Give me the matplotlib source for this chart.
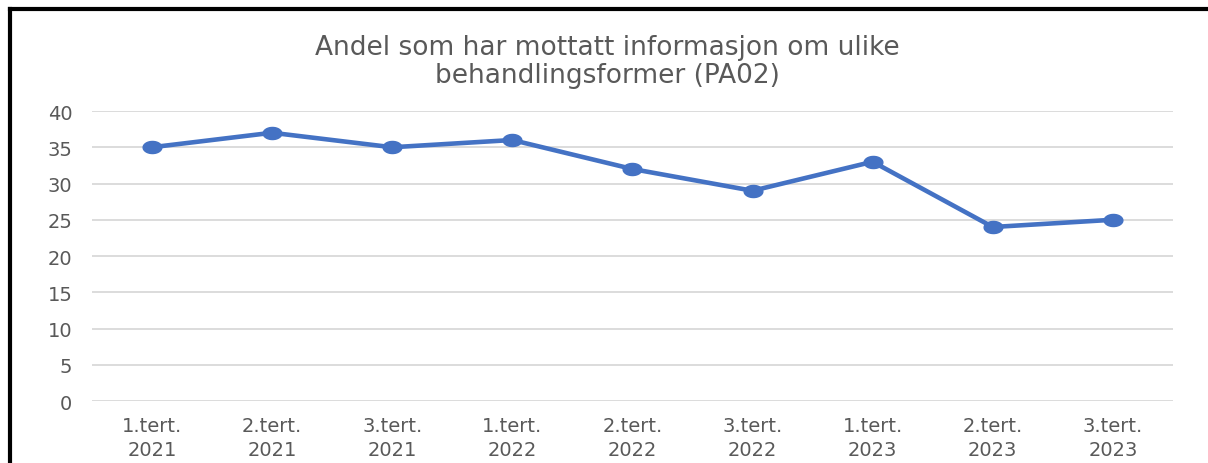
import numpy as np
import matplotlib
matplotlib.use('Agg')
import matplotlib.pyplot as plt
from matplotlib.path import Path
from matplotlib.lines import Line2D

categories = ['1.tert.\n2021', '2.tert.\n2021', '3.tert.\n2021',
              '1.tert.\n2022', '2.tert.\n2022', '3.tert.\n2022',
              '1.tert.\n2023', '2.tert.\n2023', '3.tert.\n2023']
values = [35, 37, 35, 36, 32, 29, 33, 24, 25]
yticks = [0, 5, 10, 15, 20, 25, 30, 35, 40]
title = 'Andel som har mottatt informasjon om ulike\nbehandlingsformer (PA02)'

text_color = '#595959'
line_color = '#4472C4'
grid_color = '#D9D9D9'

# the reference is stretched sideways, so use a wide ellipse marker
t = np.linspace(0, 2 * np.pi, 40)
ellipse = Path(np.column_stack([1.55 * np.cos(t), np.sin(t)]), closed=True)

fig = plt.figure(figsize=(12.08, 4.64), dpi=100)
ax = fig.add_axes([0.076, 0.1336, 0.895, 0.625])

x = np.arange(len(categories))
ax.plot(x, values, color=line_color, linewidth=3.3, marker=ellipse,
        markersize=13.5, solid_capstyle='round', zorder=3)

ax.set_xlim(-0.5, len(categories) - 0.5)
ax.set_ylim(0, 40)
ax.set_yticks(yticks)
ax.set_xticks(x)
ax.set_xticklabels(categories, linespacing=1.3)
ax.tick_params(axis='both', length=0, labelsize=14, colors=text_color)
ax.tick_params(axis='x', pad=11)
ax.tick_params(axis='y', pad=14)
for lab in ax.get_yticklabels():
    lab.set_horizontalalignment('right')
ax.grid(axis='y', color=grid_color, linewidth=1.3)
ax.set_axisbelow(True)
for s in ax.spines.values():
    s.set_visible(False)

fig.text(0.503, 0.867, title, ha='center', va='center', fontsize=19,
         color=text_color, linespacing=1.12)

# black frame on left and top edge
fig.add_artist(Line2D([10 / 1208, 10 / 1208], [0, 1 - 10 / 464],
                      transform=fig.transFigure, color='black', linewidth=3))
fig.add_artist(Line2D([10 / 1208, 1], [1 - 10 / 464, 1 - 10 / 464],
                      transform=fig.transFigure, color='black', linewidth=3))

fig.savefig('out.png', dpi=100)
